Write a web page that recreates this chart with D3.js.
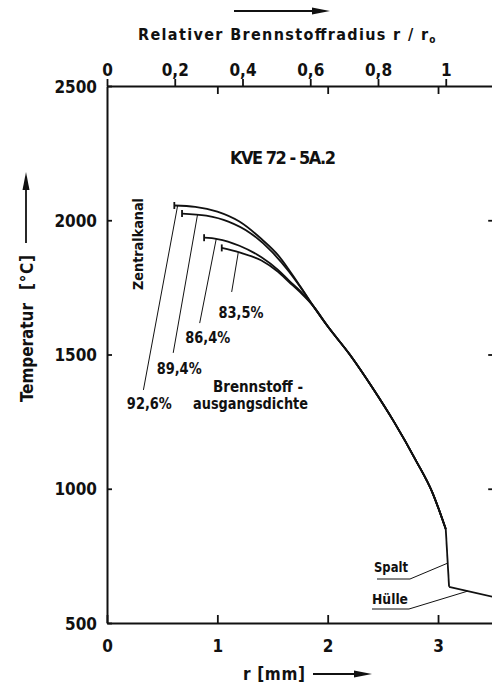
<!DOCTYPE html>
<html><head><meta charset="utf-8">
<script src="https://cdn.jsdelivr.net/npm/d3@7"></script>
<style>
body{margin:0;background:#fff;}
svg text{font-family:"DejaVu Sans Condensed","DejaVu Sans",sans-serif;fill:#111;font-weight:bold;}
</style></head><body>
<script>
// Radial temperature profiles of fuel pin KVE 72-5A.2 for four initial fuel densities
const densityLabels = ["92,6%", "89,4%", "86,4%", "83,5%"];
const radius926 = [0.61, 0.8, 1.0, 1.2, 1.4, 1.55, 1.65, 1.75, 1.87];
const temp926   = [2055, 2050, 2032, 1995, 1930, 1870, 1815, 1755, 1680];
const radius894 = [0.68, 0.9, 1.1, 1.3, 1.5, 1.65, 1.75, 1.87];
const temp894   = [2025, 2017, 1995, 1952, 1880, 1808, 1752, 1680];
const radius864 = [0.88, 1.0, 1.2, 1.4, 1.55, 1.65, 1.75, 1.87];
const temp864   = [1935, 1930, 1905, 1862, 1815, 1775, 1737, 1680];
const radius835 = [1.04, 1.2, 1.4, 1.55, 1.65, 1.75, 1.87];
const temp835   = [1897, 1880, 1850, 1808, 1770, 1732, 1680];
// common outer part of the fuel profile, then gap and cladding
const tailRadius = [2.0, 2.2, 2.4, 2.6, 2.8, 2.95, 3.07];
const tailTemp   = [1605, 1500, 1380, 1250, 1105, 985, 850];
const gapRadius  = [3.07, 3.10];
const gapTemp    = [850, 635];
const cladRadius = [3.10, 3.5];
const cladTemp   = [635, 597];
const fuelOuterRadius = 3.07;

const tempTicks = [500, 1000, 1500, 2000, 2500];
const radiusTicks = [0, 1, 2, 3];
const relTicks = [0, 0.2, 0.4, 0.6, 0.8, 1];

// annotation anchors (data units)
const leaderStartR = [0.64, 0.82, 0.99, 1.19];
const leaderEndR   = [0.33, 0.60, 0.84, 1.13];
const leaderEndT   = [1368, 1506, 1617, 1733];
const labelR       = [0.18, 0.45, 0.71, 1.01];
const labelT       = [1297, 1427, 1543, 1636];

const W = 492, H = 686;
const svg = d3.select("body").append("svg").attr("width", W).attr("height", H);

const x = d3.scaleLinear().domain([0, 3.5]).range([107, 493.2]);
const y = d3.scaleLinear().domain([500, 2500]).range([623, 86]);
const xRel = d3.scaleLinear().domain([0, 1]).range([x(0), x(fuelOuterRadius)]);

const fmtComma = d => d === 0 ? "0" : d === 1 ? "1" : d3.format(".1f")(d).replace(".", ",");

function styleAxis(g, sw) {
  g.select(".domain").attr("stroke", "#111").attr("stroke-width", sw);
  g.selectAll(".tick line").attr("stroke", "#111").attr("stroke-width", 1.8);
  g.selectAll(".tick text").attr("fill", "#111").style("font-size", "17px")
    .style("font-weight", "bold")
    .style("font-family", '"DejaVu Sans Condensed","DejaVu Sans",sans-serif');
}

// left axis
const gL = svg.append("g").attr("transform", `translate(${x(0)},0)`)
  .call(d3.axisLeft(y).tickValues(tempTicks).tickSize(-5).tickSizeOuter(0).tickPadding(10).tickFormat(d3.format("d")));
styleAxis(gL, 2);
gL.selectAll(".tick text").attr("dy", "0.36em");

// bottom axis
const gB = svg.append("g").attr("transform", `translate(0,${y(500)})`)
  .call(d3.axisBottom(x).tickValues(radiusTicks).tickSize(-8).tickSizeOuter(0).tickPadding(17).tickFormat(d3.format("d")));
styleAxis(gB, 2);

// top axis: relative radius labels, mm ticks pointing inward
const gT = svg.append("g").attr("transform", `translate(0,${y(2500)})`)
  .call(d3.axisTop(xRel).tickValues(relTicks).tickSize(7).tickSizeOuter(0).tickPadding(3).tickFormat(fmtComma));
styleAxis(gT, 2);
gT.select(".domain").remove();
const gT2 = svg.append("g").attr("transform", `translate(0,${y(2500)})`)
  .call(d3.axisTop(x).tickValues([1, 2, 3]).tickSize(-8).tickSizeOuter(0).tickFormat(""));
styleAxis(gT2, 2);

// right axis ticks
const gR = svg.append("g").attr("transform", `translate(${x(3.5)},0)`)
  .call(d3.axisRight(y).tickValues([1000, 1500, 2000]).tickSize(-5).tickSizeOuter(0).tickFormat(""));
styleAxis(gR, 2);

// temperature profiles
const line = d3.line().x(d => x(d[0])).y(d => y(d[1])).curve(d3.curveMonotoneX);
const profiles = [[radius926, temp926], [radius894, temp894], [radius864, temp864], [radius835, temp835]];
const tailPts = tailRadius.map((r, i) => [r, tailTemp[i]]);
const profilePts = profiles.map(([rs, ts]) => rs.map((r, i) => [r, ts[i]]).concat(tailPts));

svg.append("g").selectAll("path").data(profilePts).join("path")
  .attr("d", line).attr("fill", "none").attr("stroke", "#111").attr("stroke-width", 1.8);

// central channel edges
svg.append("g").selectAll("line").data(profilePts).join("line")
  .attr("x1", d => x(d[0][0])).attr("x2", d => x(d[0][0]))
  .attr("y1", d => y(d[0][1]) - 3.5).attr("y2", d => y(d[0][1]) + 3.5)
  .attr("stroke", "#111").attr("stroke-width", 1.8);

// gap and cladding
const straight = d3.line().x(d => x(d[0])).y(d => y(d[1]));
svg.append("path").datum(gapRadius.map((r, i) => [r, gapTemp[i]]))
  .attr("d", straight).attr("fill", "none").attr("stroke", "#111").attr("stroke-width", 1.8);
svg.append("path").datum(cladRadius.map((r, i) => [r, cladTemp[i]]))
  .attr("d", straight).attr("fill", "none").attr("stroke", "#111").attr("stroke-width", 1.8);

// leaders for density labels
function tempAt(pts, r) {
  for (let i = 1; i < pts.length; i++) {
    if (r <= pts[i][0]) {
      const t = (r - pts[i - 1][0]) / (pts[i][0] - pts[i - 1][0]);
      return pts[i - 1][1] + t * (pts[i][1] - pts[i - 1][1]);
    }
  }
  return pts[pts.length - 1][1];
}
densityLabels.forEach((lab, i) => {
  svg.append("line")
    .attr("x1", x(leaderStartR[i])).attr("y1", y(tempAt(profilePts[i], leaderStartR[i])))
    .attr("x2", x(leaderEndR[i])).attr("y2", y(leaderEndT[i]))
    .attr("stroke", "#111").attr("stroke-width", 1);
  svg.append("text").attr("x", x(labelR[i])).attr("y", y(labelT[i]))
    .style("font-size", "15px").attr("textLength", 45).attr("lengthAdjust", "spacingAndGlyphs").text(lab);
});

svg.append("text").attr("x", 213).attr("y", 392).style("font-size", "15px")
  .attr("textLength", 90).attr("lengthAdjust", "spacing").text("Brennstoff -");
svg.append("text").attr("x", 193).attr("y", 409).style("font-size", "15px")
  .attr("textLength", 115).attr("lengthAdjust", "spacingAndGlyphs").text("ausgangsdichte");

// Spalt / Hülle leaders
const spaltR = 3.085, spaltT = tempAt([[3.07, 850], [3.10, 635]], 3.085) - 20;
svg.append("path")
  .attr("d", `M377,579 L410,579 L${x(spaltR)},${y(spaltT)}`)
  .attr("fill", "none").attr("stroke", "#111").attr("stroke-width", 1);
svg.append("text").attr("x", 374).attr("y", 572).style("font-size", "14px")
  .attr("textLength", 34).attr("lengthAdjust", "spacingAndGlyphs").text("Spalt");
const hulleR = 3.27, hulleT = tempAt(cladRadius.map((r, i) => [r, cladTemp[i]]), hulleR);
svg.append("path")
  .attr("d", `M372,609 L409,609 L${x(hulleR)},${y(hulleT)}`)
  .attr("fill", "none").attr("stroke", "#111").attr("stroke-width", 1);
svg.append("text").attr("x", 372).attr("y", 604).style("font-size", "14px")
  .attr("textLength", 36).attr("lengthAdjust", "spacingAndGlyphs").text("Hülle");

// Zentralkanal
svg.append("text").attr("transform", "translate(143,290) rotate(-90)")
  .style("font-size", "14px")
  .attr("textLength", 92).attr("lengthAdjust", "spacingAndGlyphs").text("Zentralkanal");

// title
svg.append("text").attr("x", 230).attr("y", 164).style("font-size", "18px")
  .attr("textLength", 106).attr("lengthAdjust", "spacing").text("KVE 72 - 5A.2");

// axis titles
const topTitle = svg.append("text").attr("x", 138).attr("y", 40).style("font-size", "16px");
topTitle.append("tspan").attr("textLength", 290).attr("lengthAdjust", "spacing")
  .text("Relativer  Brennstoffradius  r / r");
topTitle.append("tspan").attr("dy", 3).style("font-size", "10px").text("o");

svg.append("text").attr("transform", "translate(33,402) rotate(-90)")
  .style("font-size", "17px").attr("textLength", 99).attr("lengthAdjust", "spacing")
  .text("Temperatur");
svg.append("text").attr("transform", "translate(33,290) rotate(-90)")
  .style("font-size", "17px").attr("textLength", 35).attr("lengthAdjust", "spacing")
  .text("[°C]");

svg.append("text").attr("x", 243).attr("y", 680).style("font-size", "17px")
  .attr("textLength", 62).attr("lengthAdjust", "spacing").text("r [mm]");

// arrows
function arrow(x1, y1, x2, y2) {
  const a = Math.atan2(y2 - y1, x2 - x1), L = 18, w = 3.5;
  const bx = x2 - L * Math.cos(a), by = y2 - L * Math.sin(a);
  svg.append("line").attr("x1", x1).attr("y1", y1).attr("x2", bx).attr("y2", by)
    .attr("stroke", "#111").attr("stroke-width", 1.8);
  svg.append("path").attr("d",
    `M${x2},${y2} L${bx + w * Math.sin(a)},${by - w * Math.cos(a)} L${bx - w * Math.sin(a)},${by + w * Math.cos(a)} Z`)
    .attr("fill", "#111");
}
arrow(234, 11, 330, 11);
arrow(26, 243, 26, 172);
arrow(313, 674, 372, 674);
</script>
</body></html>
